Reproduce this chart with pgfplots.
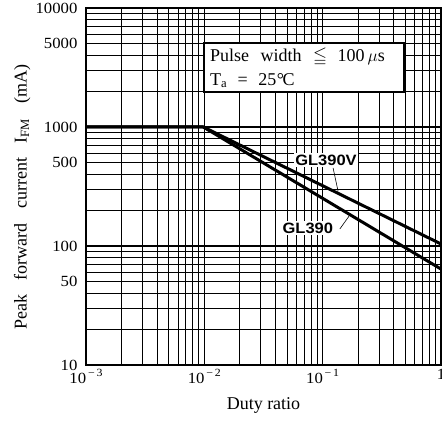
\documentclass[border=0pt]{standalone}
\usepackage{amssymb}
\usepackage{pgfplots}
\pgfplotsset{compat=1.18}
\usepackage{fontspec}
\setmainfont{Liberation Serif}
\newfontfamily\lblfont{Liberation Sans}[FakeStretch=1.1]
\newfontfamily\tickfont{Liberation Serif}[FakeStretch=1.08]
\newcommand{\ee}[1]{10\raisebox{0.45em}{\fontsize{11}{11}\selectfont\,−\,#1}}
\begin{document}
\begin{tikzpicture}
\begin{axis}[
  xmode=log, ymode=log,
  scale only axis, width=355pt, height=357pt,
  xmin=1e-3, xmax=1, ymin=10, ymax=10000,
  xtick={0.001,0.01,0.1,1},
  xticklabels={\ee{3},\ee{2},\ee{1},1},
  minor xtick={0.002,0.003,0.004,0.005,0.006,0.007,0.008,0.009,
               0.02,0.03,0.04,0.05,0.06,0.07,0.08,0.09,
               0.2,0.3,0.4,0.5,0.6,0.7,0.8,0.9},
  ytick={10,50,100,500,1000,5000,10000},
  yticklabels={10,50,100,500,1000,5000,10000},
  minor ytick={20,30,40,60,70,80,90,200,300,400,600,700,800,900,
               2000,3000,4000,6000,7000,8000,9000},
  grid=both,
  major grid style={black, line width=1.1pt},
  minor grid style={black, line width=1.0pt},
  major tick length=0pt, minor tick length=0pt,
  axis line style={black, line width=1.5pt},
  ticklabel style={font=\tickfont\fontsize{15.5}{17}\selectfont},
  yticklabel style={anchor=east, xshift=-5pt},
  xticklabel style={anchor=north, yshift=-1pt},
  xlabel={Duty ratio},
  xlabel style={font=\fontsize{18}{20}\selectfont, at={(axis description cs:0.5,-0.126)}, anchor=base},
  ylabel={Peak\hspace{10pt} forward\hspace{10pt} current\hspace{10pt} I\textsubscript{FM}\hspace{10pt} (mA)},
  ylabel style={font=\fontsize{18}{20}\selectfont, at={(axis description cs:-0.18,0.47)}, anchor=center, rotate=0},
  clip=true,
]
% GL390V
\addplot[black, line width=3pt, line join=round] coordinates {(0.001,1000) (0.0098,1000) (1,104)};
% GL390
\addplot[black, line width=3pt, line join=round] coordinates {(0.001,1000) (0.0098,1000) (1,64)};

\draw[line width=1.8pt, fill=white] (rel axis cs:0.332,0.765) rectangle (rel axis cs:0.896,0.902);
\node[anchor=base west, inner sep=0pt, font=\fontsize{18}{20}\selectfont] at (rel axis cs:0.349,0.849)
  {Pulse\hspace{7pt} width\hspace{7pt} $\leqq$\hspace{6pt} 100\,$\mu$s};
\node[anchor=base west, inner sep=0pt, font=\fontsize{18}{20}\selectfont] at (rel axis cs:0.349,0.784)
  {T\textsubscript{a}\hspace{6pt} =\hspace{6pt} 25\kern0.5pt°\kern-1.5pt C};

\draw[black, line width=0.6pt] (rel axis cs:0.696,0.552) -- (rel axis cs:0.710,0.487);
\draw[black, line width=0.6pt] (rel axis cs:0.715,0.381) -- (rel axis cs:0.741,0.417);
\node[fill=white, inner sep=1.5pt, font=\lblfont\bfseries\fontsize{15}{15}\selectfont] at (rel axis cs:0.676,0.574) {GL390V};
\node[fill=white, inner sep=1.5pt, font=\lblfont\bfseries\fontsize{15}{15}\selectfont] at (rel axis cs:0.625,0.384) {GL390};
\end{axis}
\pgfresetboundingbox
\useasboundingbox (-86pt,-58pt) rectangle (356pt,365pt);
\end{tikzpicture}
\end{document}
